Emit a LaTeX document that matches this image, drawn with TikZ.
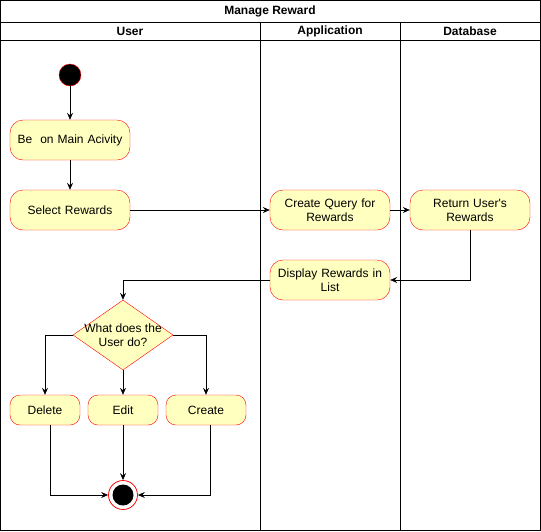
\documentclass[tikz,border=0pt]{standalone}
\usepackage{fontspec}
\setmainfont{Liberation Sans}
\usetikzlibrary{arrows.meta,shapes.geometric,positioning}
\definecolor{actfill}{HTML}{FFFFC0}
\definecolor{actline}{HTML}{FF0000}
\tikzset{
  x=1pt, y=-1pt,
  every node/.style={font=\fontsize{12}{14}\selectfont},
  activity/.style={draw=actline, fill=actfill, rounded corners=13pt, minimum width=120pt, minimum height=40pt, align=center, inner sep=2pt, text width=116pt},
  smallact/.style={draw=actline, fill=actfill, rounded corners=10pt, minimum height=30pt, align=center, inner sep=0pt},
  decision/.style={draw=actline, fill=actfill, diamond, aspect=1.4286, minimum width=100pt, minimum height=70pt, inner sep=0pt, align=center},
  flow/.style={-{Stealth[length=7pt,width=6pt,inset=2.5pt]}, line width=0.75pt},
  lane/.style={draw=black, line width=0.75pt},
  header/.style={font=\fontsize{12}{14}\selectfont\bfseries}
}
\begin{document}
\begin{tikzpicture}
\useasboundingbox (0,0) rectangle (541,531);
% swimlane frame
\draw[lane] (0.5,0.5) rectangle (540.5,530.5);
\draw[lane] (0.5,22) -- (540.5,22);
\draw[lane] (0.5,40) -- (540.5,40);
\draw[lane] (260,22) -- (260,530.5);
\draw[lane] (400,22) -- (400,530.5);
\node[header] (title) at (270,11.5) {Manage Reward};
\node[header] (hUser) at (130,31) {User};
\node[header] (hApp) at (330,31) {Application};
\node[header] (hDb) at (470,31) {Database};

% activities
\node[circle, draw=actline, fill=black, minimum size=22pt, inner sep=0pt] (start) at (70,75) {};
\node[activity] (main) at (70,140) {Be\ \ on Main Acivity};
\node[activity] (select) at (70,210) {Select Rewards};
\node[activity] (query) at (330,210) {Create Query for\\Rewards};
\node[activity] (ret) at (470,210) {Return User\textquotesingle s\\Rewards};
\node[activity] (disp) at (330,280) {Display Rewards in\\List};
\node[decision] (dec) at (123,335) {};
\node[align=center] (declabel) at (123,335) {What does the\\User do?};
\node[smallact, minimum width=70pt] (del) at (45,410) {Delete};
\node[smallact, minimum width=70pt] (edit) at (123,410) {Edit};
\node[smallact, minimum width=80pt] (create) at (206,410) {Create};
\node[circle, draw=actline, fill=white, minimum size=29pt, inner sep=0pt, line width=0.75pt] (end) at (123,495) {};
\node[circle, fill=black, minimum size=21pt, inner sep=0pt] (endin) at (end) {};

% control flow
\draw[flow] (start) -- (main);
\draw[flow] (main) -- (select);
\draw[flow] (select) -- (query);
\draw[flow] (query) -- (ret);
\draw[flow] (ret.south) |- (disp.east);
\draw[flow] (disp.west) -| (dec.north);
\draw[flow] (dec.west) -| (del.north);
\draw[flow] (dec.south) -- (edit.north);
\draw[flow] (dec.east) -| (create.north);
\draw[flow] ([xshift=5pt]del.south) |- (end.west);
\draw[flow] (edit.south) -- (end.north);
\draw[flow] ([xshift=4pt]create.south) |- (end.east);
\end{tikzpicture}
\end{document}
